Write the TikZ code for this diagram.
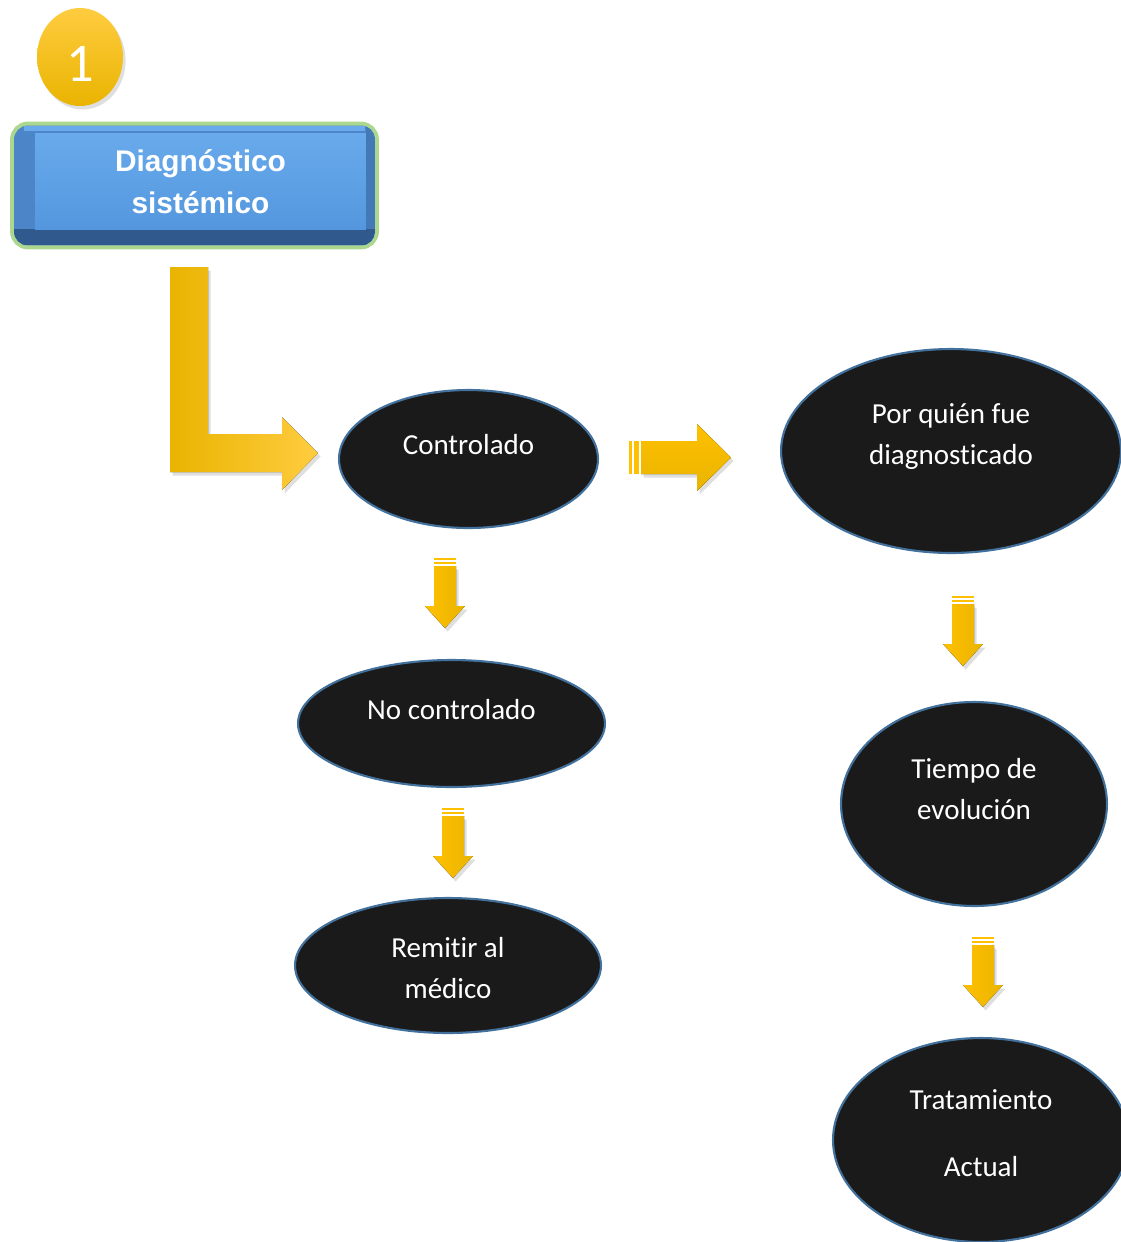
\documentclass[tikz,border=0pt]{standalone}
\usepackage{fontspec}
\setmainfont{Carlito}[Ligatures=NoCommon]
\newfontfamily\boxfont{Liberation Sans}
\usetikzlibrary{shapes.geometric,shadows}
\definecolor{diaggold}{RGB}{255,192,0}
\definecolor{diaggolddk}{RGB}{233,180,0}
\definecolor{diaggoldlt}{RGB}{255,204,64}
\definecolor{diagoval}{RGB}{26,26,26}
\definecolor{diagedge}{RGB}{65,113,156}
\definecolor{diagblue}{RGB}{84,151,222}
\definecolor{diagbluelt}{RGB}{104,170,235}
\definecolor{diagbluemd}{RGB}{76,134,200}
\definecolor{diagbluedk}{RGB}{48,90,142}
\definecolor{diagglow}{RGB}{145,202,105}

\begin{document}
\begin{tikzpicture}[x=0.02cm,y=-0.02cm,
    oval/.style={ellipse,draw=diagedge,line width=1.2pt,fill=diagoval,inner sep=0pt},
    ovaltxt/.style={text=white,align=center,font=\fontsize{16.5}{23}\selectfont},
    goldshadow/.style={drop shadow={opacity=0.25,shadow xshift=1.5pt,shadow yshift=-2pt}},
    goldL/.style={left color=diaggolddk,middle color=diaggold,right color=diaggoldlt,goldshadow},
    golddown/.style={left color=diaggold,right color=diaggolddk,goldshadow},
    goldright/.style={top color=diaggold,bottom color=diaggolddk,goldshadow},
    boxtxt/.style={text=white,align=center,font=\boxfont\bfseries\fontsize{17}{24}\selectfont},
    diagbox/.style={rounded corners=8pt,fill=diagbluemd,minimum width=7.22cm,minimum height=2.4cm,
      preaction={draw=diagglow,line width=4.5pt,opacity=0.75},
      path picture={
        \fill[sharp corners,diagbluemd!70!diagbluedk] ([xshift=-0.18cm]path picture bounding box.north east) rectangle (path picture bounding box.south east);
        \fill[sharp corners,diagbluedk] (path picture bounding box.south west) rectangle ([yshift=0.32cm]path picture bounding box.south east);
        \fill[sharp corners,diagbluelt] ([xshift=0.2cm]path picture bounding box.north west) rectangle ([xshift=-0.2cm,yshift=-0.1cm]path picture bounding box.north east);
        \fill[sharp corners,top color=diagbluelt,bottom color=diagblue] ([xshift=0.42cm,yshift=-0.16cm]path picture bounding box.north west) rectangle ([xshift=-0.18cm,yshift=0.32cm]path picture bounding box.south east);
      }}
  ]
  \useasboundingbox (0,0) rectangle (1121,1242);
  \fill[white] (0,0) rectangle (1121,1242);

  % badge and title box
  \node[ellipse,minimum width=1.72cm,minimum height=1.96cm,top color=diaggoldlt,bottom color=diaggolddk,
    goldshadow,text=white,font=\fontsize{31}{31}\selectfont,text height=28pt] (badge) at (80,57) {1};
  \node[diagbox,label={[boxtxt,xshift=3.4pt,yshift=2.3pt]center:Diagnóstico\\sistémico}] (sys) at (194.5,185.5) {};

  % ovals
  \node[oval,minimum width=5.18cm,minimum height=2.76cm,label={[ovaltxt,yshift=8.5pt]center:Controlado}] (ctrl) at (468.5,459) {};
  \node[oval,minimum width=6.8cm,minimum height=4.08cm,label={[ovaltxt,yshift=8.2pt]center:Por quién fue\\diagnosticado}] (quien) at (951,451) {};
  \node[oval,minimum width=6.14cm,minimum height=2.54cm,label={[ovaltxt,yshift=8.2pt]center:No controlado}] (noctrl) at (451.5,723.5) {};
  \node[oval,minimum width=6.12cm,minimum height=2.7cm,label={[ovaltxt,yshift=-1.4pt]center:Remitir al\\médico}] (remit) at (448,965.5) {};
  \node[oval,minimum width=5.32cm,minimum height=4.08cm,label={[ovaltxt,yshift=8.5pt]center:Tiempo de\\evolución}] (tiempo) at (974,804) {};
  \node[oval,minimum width=5.92cm,minimum height=4.08cm,label={[ovaltxt,yshift=4pt]center:Tratamiento\\[15.4pt]Actual}] (trat) at (981,1140) {};

  % L arrow from the box to Controlado
  \fill[goldL] (170,267) -- (208,267) -- (208,434) -- (282,434) -- (282,417) -- (318,453)
    -- (282,490) -- (282,472) -- (170,472) -- cycle;

  % arrow Controlado -> Por quien
  \fill[diaggold] (629,441) rectangle (632,474);
  \fill[diaggold] (634,441) rectangle (639,474);
  \fill[goldright] (641,441) -- (697,441) -- (697,424) -- (731,457.5) -- (697,491) -- (697,474) -- (641,474) -- cycle;

  % down arrows
  \foreach \x/\t in {445/558, 453/808, 963/596, 983/937} {
    \fill[diaggold] (\x-11,\t) rectangle (\x+11,\t+2);
    \fill[diaggold] (\x-11,\t+4) rectangle (\x+11,\t+6);
    \fill[golddown] (\x-11,\t+8) -- (\x+11,\t+8) -- (\x+11,\t+48) -- (\x+20,\t+48) -- (\x,\t+70)
      -- (\x-20,\t+48) -- (\x-11,\t+48) -- cycle;
  }
\end{tikzpicture}
\end{document}
